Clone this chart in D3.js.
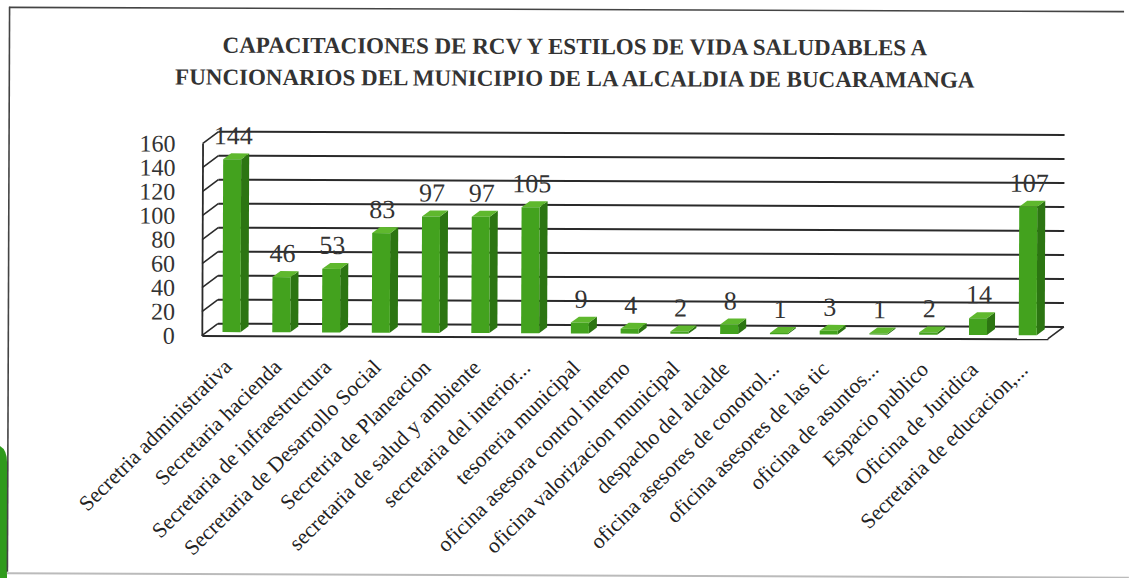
<!DOCTYPE html>
<html>
<head>
<meta charset="utf-8">
<script src="https://cdn.jsdelivr.net/npm/d3@7"></script>
<style>
  html, body { margin: 0; padding: 0; background: #fff; }
  svg { display: block; }
</style>
</head>
<body>
<svg id="chart" width="1130" height="578"></svg>
<script>
const titleLines = [
  "CAPACITACIONES DE RCV Y ESTILOS DE VIDA SALUDABLES A",
  "FUNCIONARIOS DEL MUNICIPIO DE LA ALCALDIA DE BUCARAMANGA"
];
const categories = [
  "Secretria administrativa",
  "Secretaria hacienda",
  "Secretaria de infraestructura",
  "Secretaria de Desarrollo Social",
  "Secretria de Planeacion",
  "secretaria de salud y ambiente",
  "secretaria del interior...",
  "tesoreria municipal",
  "oficina asesora control interno",
  "oficina valorizacion municipal",
  "despacho del alcalde",
  "oficina asesores de conotrol...",
  "oficina asesores de las tic",
  "oficina de asuntos...",
  "Espacio publico",
  "Oficina de Juridica",
  "Secretaria de educacion,..."
];
const values = [144, 46, 53, 83, 97, 97, 105, 9, 4, 2, 8, 1, 3, 1, 2, 14, 107];
const yTicks = [0, 20, 40, 60, 80, 100, 120, 140, 160];

const svg = d3.select("#chart");
const serif = "'Liberation Serif', 'DejaVu Serif', serif";

// page decoration: green edge and scanned frame
svg.append("path")
  .attr("d", "M0,446 Q7,450 7,462 L7,578 L0,578 Z")
  .attr("fill", "#2f9a1c");

const root = svg.append("g").attr("transform", "rotate(0.22,565,289)");

root.append("line").attr("x1", 8.5).attr("y1", 9).attr("x2", 8.5).attr("y2", 574)
  .attr("stroke", "#444").attr("stroke-width", 1.6);
root.append("line").attr("x1", 8).attr("y1", 9.5).attr("x2", 1123).attr("y2", 9.5)
  .attr("stroke", "#444").attr("stroke-width", 1.6);
root.append("line").attr("x1", 8).attr("y1", 575.5).attr("x2", 1130).attr("y2", 575.5)
  .attr("stroke", "#bbb").attr("stroke-width", 2);

// title
root.append("g").selectAll("text").data(titleLines).join("text")
  .attr("x", 574)
  .attr("y", (d, i) => 54 + i * 32)
  .attr("text-anchor", "middle")
  .attr("font-family", serif)
  .attr("font-weight", "bold")
  .attr("font-size", 23)
  .attr("fill", "#333")
  .text(d => d);

// scales
const x = d3.scaleBand().domain(categories).range([202, 1048]).padding(0);
const y = d3.scaleLinear().domain([0, 160]).range([337, 145]);
const D = { dx: 16, dy: -12 };
const bw = x.bandwidth();

const lineCol = "#2a2a2a";

// back wall gridlines and left wall ticks
const grid = root.append("g");
grid.selectAll("line.g").data(yTicks).join("line")
  .attr("class", "g")
  .attr("x1", 202 + D.dx).attr("x2", 1048 + D.dx)
  .attr("y1", d => y(d) + D.dy).attr("y2", d => y(d) + D.dy)
  .attr("stroke", lineCol).attr("stroke-width", 2);
grid.selectAll("line.d").data(yTicks).join("line")
  .attr("class", "d")
  .attr("x1", 202).attr("x2", 202 + D.dx)
  .attr("y1", d => y(d)).attr("y2", d => y(d) + D.dy)
  .attr("stroke", lineCol).attr("stroke-width", 1.6);
// floor right edge
grid.append("line")
  .attr("x1", 1048).attr("y1", y(0)).attr("x2", 1048 + D.dx).attr("y2", y(0) + D.dy)
  .attr("stroke", lineCol).attr("stroke-width", 1.6);

// y axis
const yAxis = root.append("g")
  .attr("transform", "translate(202,0)")
  .call(d3.axisLeft(y).tickValues(yTicks).tickSize(0).tickSizeOuter(0).tickPadding(27));
yAxis.select(".domain").attr("stroke", lineCol).attr("stroke-width", 1.8);
yAxis.selectAll("text")
  .attr("font-family", serif).attr("font-size", 24).attr("fill", "#333");

// x axis
const xAxis = root.append("g")
  .attr("transform", `translate(0,${y(0)})`)
  .call(d3.axisBottom(x).tickSize(0).tickSizeOuter(0));
xAxis.select(".domain").attr("stroke", lineCol).attr("stroke-width", 2);
xAxis.selectAll("text")
  .attr("font-family", serif).attr("font-size", 21.5).attr("fill", "#222")
  .attr("text-anchor", "end")
  .attr("x", 0).attr("y", 0).attr("dy", "0.35em")
  .attr("transform", "translate(1,27) rotate(-45)");

// 3D bars
const t1 = 0.3, depth = 0.5, fw = 18;
const bars = root.append("g").selectAll("g").data(values).join("g");
function geo(v, i) {
  const bc = x(categories[i]) + bw / 2;
  const fx = bc - fw / 2 + t1 * D.dx;
  const yb = y(0) + t1 * D.dy;
  const yt = y(v) + t1 * D.dy;
  return { fx, yb, yt, sx: depth * D.dx, sy: depth * D.dy };
}
bars.append("path")
  .attr("fill", "#2c7512")
  .attr("d", (v, i) => {
    const g = geo(v, i);
    return `M${g.fx + fw},${g.yb} L${g.fx + fw + g.sx},${g.yb + g.sy} L${g.fx + fw + g.sx},${g.yt + g.sy} L${g.fx + fw},${g.yt} Z`;
  });
bars.append("path")
  .attr("fill", "#5fb82e")
  .attr("d", (v, i) => {
    const g = geo(v, i);
    return `M${g.fx},${g.yt} L${g.fx + g.sx},${g.yt + g.sy} L${g.fx + fw + g.sx},${g.yt + g.sy} L${g.fx + fw},${g.yt} Z`;
  });
bars.append("rect")
  .attr("fill", "#43a21e")
  .attr("x", (v, i) => geo(v, i).fx)
  .attr("y", (v, i) => geo(v, i).yt)
  .attr("width", fw)
  .attr("height", (v, i) => geo(v, i).yb - geo(v, i).yt);

// data labels
root.append("g").selectAll("text").data(values).join("text")
  .attr("x", (v, i) => geo(v, i).fx + fw / 2 + 1)
  .attr("y", (v, i) => geo(v, i).yt - 15)
  .attr("text-anchor", "middle")
  .attr("font-family", serif).attr("font-size", 26).attr("fill", "#333")
  .text(v => v);
</script>
</body>
</html>
